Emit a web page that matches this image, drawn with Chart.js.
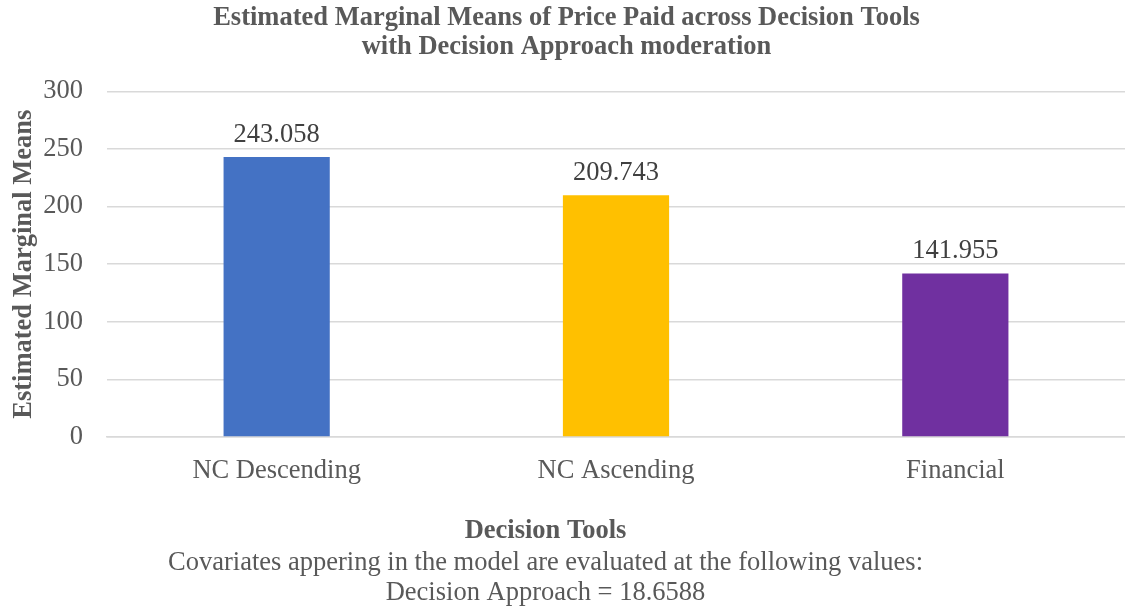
<!DOCTYPE html>
<html>
<head>
<meta charset="utf-8">
<script src="https://cdn.jsdelivr.net/npm/chart.js@4.4.0/dist/chart.umd.min.js"></script>
<style>
  html, body { margin: 0; padding: 0; background: #fff; }
  #wrap { width: 1125px; height: 609px; }
</style>
</head>
<body>
<div id="wrap"><canvas id="emmChart"></canvas></div>
<script>
const categories = ['NC Descending', 'NC Ascending', 'Financial'];
const means = [243.058, 209.743, 141.955];
const barColors = ['#4472C4', '#FFC000', '#7030A0'];
const titleLines = ['Estimated Marginal Means of Price Paid across Decision Tools', 'with Decision Approach moderation'];
const xTitle = 'Decision Tools';
const noteLines = ['Covariates appering in the model are evaluated at the following values:', 'Decision Approach = 18.6588'];

const FONT = "'Liberation Serif', 'Times New Roman', serif";
const GREY = '#595959';

// value labels above each bar
const valueLabels = {
  id: 'valueLabels',
  afterDatasetsDraw(chart) {
    const ctx = chart.ctx;
    const meta = chart.getDatasetMeta(0);
    ctx.save();
    ctx.font = '26.5px ' + FONT;
    ctx.fillStyle = '#404040';
    ctx.textAlign = 'center';
    ctx.textBaseline = 'bottom';
    meta.data.forEach((bar, i) => {
      ctx.fillText(means[i].toFixed(3), bar.x, bar.y - 9);
    });
    ctx.restore();
  }
};

// axis title + covariate note under the chart (centred left of the plot centre, as in the original)
const bottomNotes = {
  id: 'bottomNotes',
  afterDraw(chart) {
    const ctx = chart.ctx;
    const cx = chart.width / 2 - 17;
    const base = chart.chartArea.bottom;
    ctx.save();
    ctx.fillStyle = GREY;
    ctx.textAlign = 'center';
    ctx.textBaseline = 'middle';
    ctx.font = 'bold 26.5px ' + FONT;
    ctx.fillText(xTitle, cx, base + 94);
    ctx.font = '26.5px ' + FONT;
    ctx.fillText(noteLines[0], cx, base + 126);
    ctx.fillText(noteLines[1], cx, base + 156);
    ctx.restore();
  }
};

new Chart(document.getElementById('emmChart'), {
  type: 'bar',
  data: {
    labels: categories,
    datasets: [{
      data: means,
      backgroundColor: barColors,
      borderWidth: 0,
      categoryPercentage: 1,
      barPercentage: 0.313
    }]
  },
  options: {
    responsive: true,
    maintainAspectRatio: false,
    animation: false,
    layout: { padding: { left: 8, right: 0, top: 0, bottom: 0 } },
    plugins: {
      legend: { display: false },
      tooltip: { enabled: false },
      title: {
        display: true,
        text: titleLines,
        color: GREY,
        font: { family: FONT, size: 26.5, weight: 'bold', lineHeight: 1.1 },
        padding: { top: 3.5, bottom: 29.5 }
      }
    },
    scales: {
      x: {
        afterFit(scale) { scale.height = 172; },
        grid: { display: false },
        border: { display: true, color: '#d9d9d9', width: 1.5 },
        ticks: {
          color: GREY,
          font: { family: FONT, size: 26.5 },
          padding: 10
        }
      },
      y: {
        min: 0,
        max: 300,
        afterFit(scale) { scale.width = 99; },
        ticks: {
          stepSize: 50,
          color: GREY,
          font: { family: FONT, size: 26.5 },
          padding: 24
        },
        grid: { color: '#d9d9d9', lineWidth: 1.5, drawTicks: false },
        border: { display: false },
        title: {
          display: true,
          text: 'Estimated Marginal Means',
          color: GREY,
          font: { family: FONT, size: 26.5, weight: 'bold' },
          padding: { top: 0, bottom: 0 }
        }
      }
    }
  },
  plugins: [valueLabels, bottomNotes]
});
</script>
</body>
</html>
